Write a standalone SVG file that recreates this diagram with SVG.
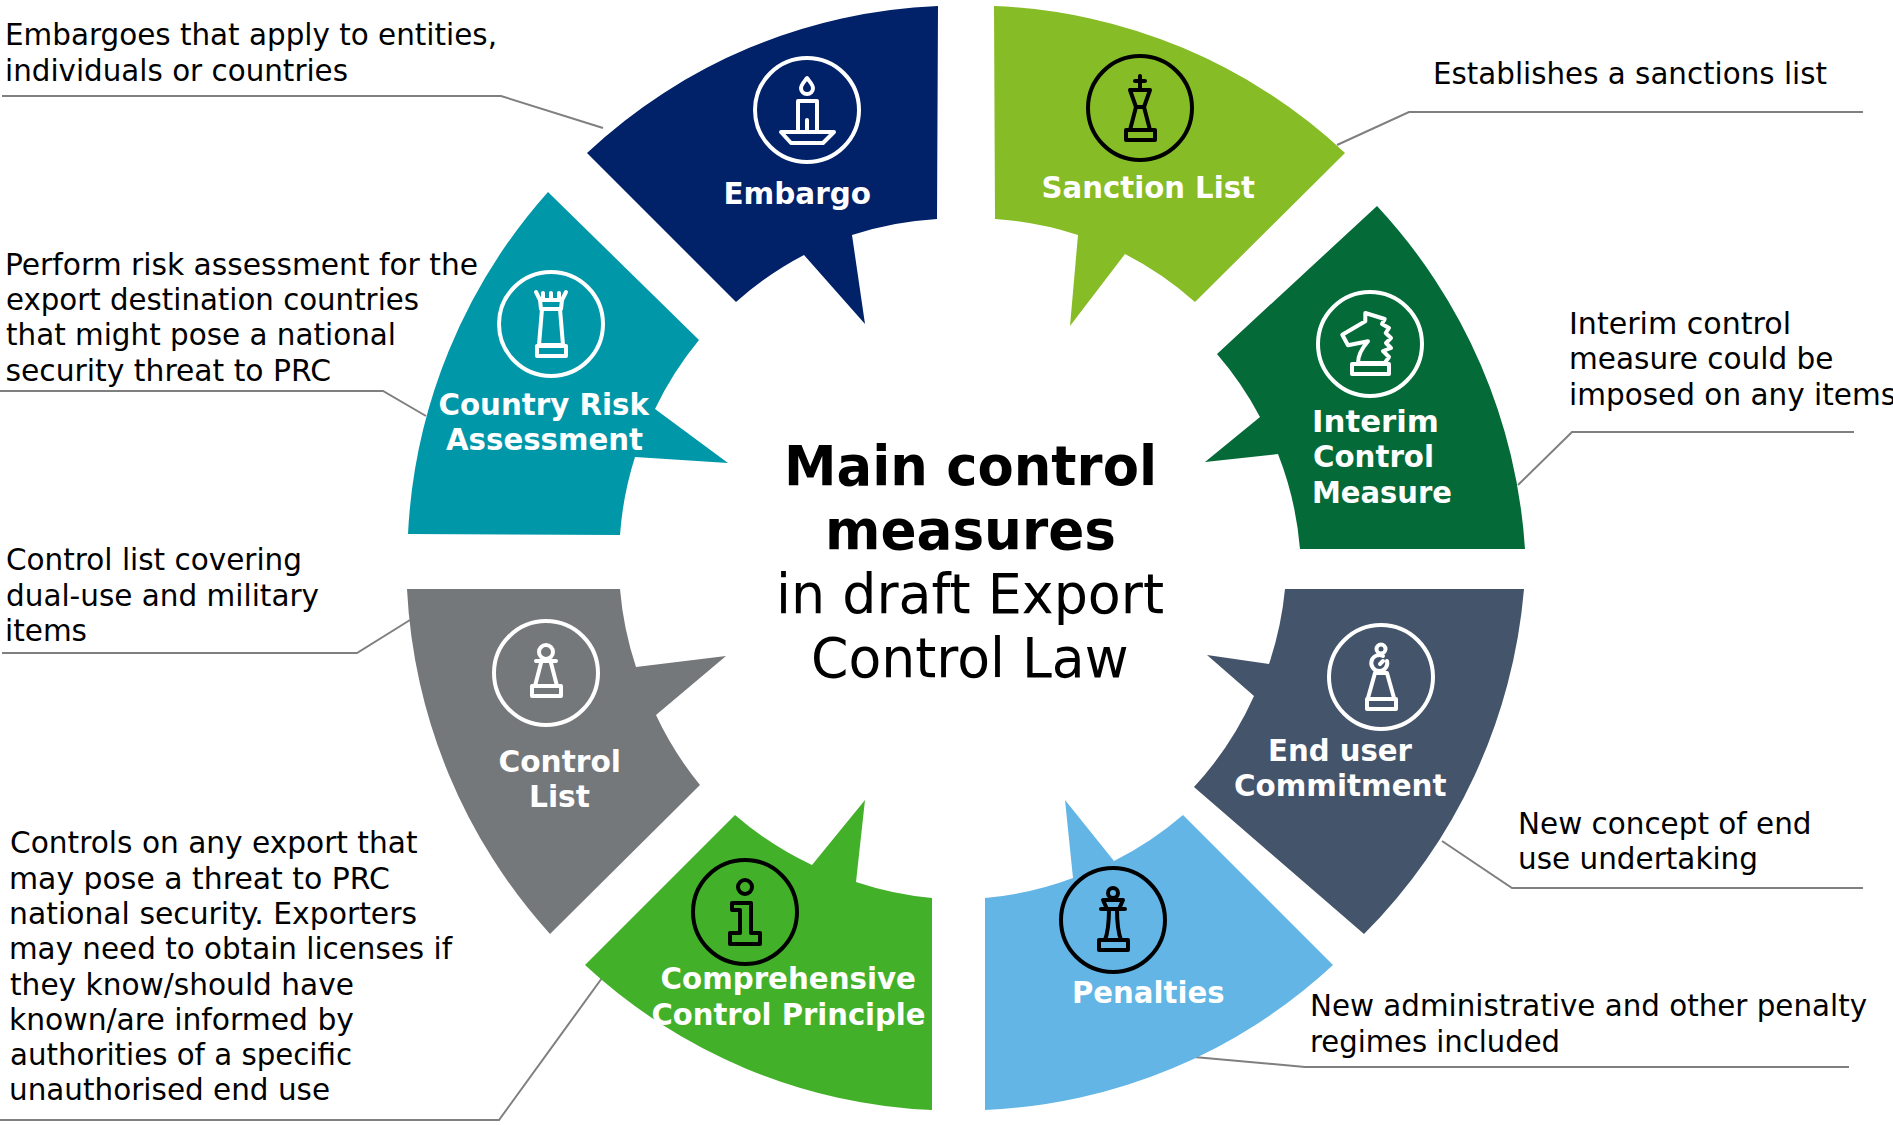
<svg xmlns="http://www.w3.org/2000/svg" width="1893" height="1125" viewBox="0 0 1893 1125">
<style>
text{font-family:"DejaVu Sans","Liberation Sans",sans-serif}
.b{font-size:29.5px;fill:#000}
.l{font-size:29.5px;font-weight:700;fill:#fff}
.t{font-size:54.5px;fill:#000}
.w{fill:none;stroke:#fff;stroke-width:4;stroke-linejoin:round;stroke-linecap:round}
.k{fill:none;stroke:#000;stroke-width:4;stroke-linejoin:round;stroke-linecap:round}
.c{fill:none;stroke:#7f7f7f;stroke-width:2}
</style>
<rect width="1893" height="1125" fill="#fff"/>
<g id="connectors">
<polyline class="c" points="2,96 501,96 603,128"/>
<polyline class="c" points="1337,145 1409,112 1863,112"/>
<polyline class="c" points="1518,485 1572,432 1854,432"/>
<polyline class="c" points="0,391 383,391 426,416"/>
<polyline class="c" points="2,653 357,653 410,620"/>
<polyline class="c" points="0,1120 499,1120 602,978"/>
<polyline class="c" points="1442,841 1512,888 1863,888"/>
<polyline class="c" points="1194,1057 1305,1067 1849,1067"/>
</g>
<g id="embargo">
<path fill="#012169" d="M938,6 L937,219 A335,335 0 0 0 852,235 L865,324 L804,255 A335,335 0 0 0 736,302 L587,153 A545,545 0 0 1 938,6Z"/>
<g class="w" transform="translate(807,110)"><circle r="52"/><path d="M0,-32C-3,-28 -6,-25 -6,-22A6,6 0 0 0 6,-22C6,-25 3,-28 0,-32Z"/><path d="M-9,21V-9H10V21M0,21V10M-26,22H27L16,33H-16Z"/></g>
<text class="l" x="723.500" y="204" textLength="147.500" lengthAdjust="spacingAndGlyphs">Embargo</text>
</g>
<g id="sanction-list">
<path fill="#86BC25" d="M994,6 A545,545 0 0 1 1345,153 L1195,302 A335,335 0 0 0 1125,254 L1070,326 L1078,235 A335,335 0 0 0 995,219Z"/>
<g class="k" transform="translate(1140,108)"><circle r="52"/><path d="M0,-32V-20M-5,-27H5M-10,-18H10L4,-1L10,22H-10L-4,-1ZM-4,-1H4M-14,22H15V32H-14Z"/></g>
<text class="l" x="1041.500" y="198" textLength="213.500" lengthAdjust="spacingAndGlyphs">Sanction List</text>
</g>
<g id="interim-control-measure">
<path fill="#046A38" d="M1377,206 A555,555 0 0 1 1525,549 L1300,549 A335,335 0 0 0 1278,454 L1205,462 L1260,417 A335,335 0 0 0 1217,354Z"/>
<g class="w" transform="translate(1370,344)"><circle r="52"/><path d="M-4.7,-31L14.7,-25L12,-20L19,-16L15.7,-11L21,-6L16,-1L21,4L13,7L19,13L14.7,19H-12C-12,10 -7,3 -2,-2.7L-22,1.3L-27.7,-9.3L-4.7,-22.7ZM-18,20H19V30H-18Z"/></g>
<text class="l" x="1312" y="432" textLength="127" lengthAdjust="spacingAndGlyphs">Interim</text>
<text class="l" x="1313" y="467" textLength="121" lengthAdjust="spacingAndGlyphs">Control</text>
<text class="l" x="1312" y="503" textLength="140" lengthAdjust="spacingAndGlyphs">Measure</text>
</g>
<g id="country-risk-assessment">
<path fill="#0097A9" d="M408,534 A555,555 0 0 1 548,192 L699,340 A335,335 0 0 0 655,409 L728,463 L635,457 A335,335 0 0 0 620,535Z"/>
<g class="w" transform="translate(551,324)"><circle r="52"/><path d="M-15,-32L-11,-24H11L15,-32M-8,-31V-25M0,-31V-25M8,-31V-25M-11,-24L-10,-15H10L11,-24M-9,-15L-12,21H12L9,-15M-14,22H15V32H-14Z"/></g>
<text class="l" x="438.500" y="415" textLength="210.500" lengthAdjust="spacingAndGlyphs">Country Risk</text>
<text class="l" x="446" y="450" textLength="197" lengthAdjust="spacingAndGlyphs">Assessment</text>
</g>
<g id="control-list">
<path fill="#75787B" d="M407,589 L620,589 A335,335 0 0 0 636,667 L726,656 L656,715 A335,335 0 0 0 700,785 L550,934 A555,555 0 0 1 407,589Z"/>
<g class="w" transform="translate(546,673)"><circle r="52"/><circle cy="-21" r="7"/><path d="M-10,-12H10M-4.5,-12L-11,13M4.5,-12L11,13M-14,13H15V23H-14Z"/></g>
<text class="l" x="498.500" y="772" textLength="122.500" lengthAdjust="spacingAndGlyphs">Control</text>
<text class="l" x="529" y="807" textLength="61" lengthAdjust="spacingAndGlyphs">List</text>
</g>
<g id="end-user-commitment">
<path fill="#44546A" d="M1285,589 L1524,589 A555,555 0 0 1 1364,934 L1194,787 A335,335 0 0 0 1254,696 L1207,655 L1269,664 A335,335 0 0 0 1285,589Z"/>
<g class="w" transform="translate(1381,677)"><circle r="52"/><circle cy="-28" r="4.5"/><path d="M2,-21A8,8 0 1 0 6,-16M-1,-13L2,-16M-6,-4L-13,21M6,-4L13,21M-6,-4H6M-14,22H15V32H-14Z"/></g>
<text class="l" x="1268" y="761" textLength="144" lengthAdjust="spacingAndGlyphs">End user</text>
<text class="l" x="1234" y="796" textLength="212.500" lengthAdjust="spacingAndGlyphs">Commitment</text>
</g>
<g id="comprehensive-control-principle">
<path fill="#43B02A" d="M585,965 L735,815 A335,335 0 0 0 812,865 L865,800 L856,882 A335,335 0 0 0 932,898 L932,1110 A545,545 0 0 1 585,965Z"/>
<g class="k" transform="translate(745,912)"><circle r="52"/><circle cy="-25" r="7"/><path d="M-13,-9H6V21H15V32H-15V21H-5V-2H-13Z"/></g>
<text class="l" x="660.500" y="989" textLength="255.500" lengthAdjust="spacingAndGlyphs">Comprehensive</text>
<text class="l" x="651.500" y="1025" textLength="274" lengthAdjust="spacingAndGlyphs">Control Principle</text>
</g>
<g id="penalties">
<path fill="#62B5E5" d="M985,898 A335,335 0 0 0 1073,878 L1065,800 L1114,861 A335,335 0 0 0 1183,815 L1333,965 A545,545 0 0 1 985,1110Z"/>
<g class="k" transform="translate(1113,920)"><circle r="52"/><circle cy="-27" r="5"/><path d="M-10,-20H10L6,-11H-6ZM-12,-11H12M-4,-11C-4,5 -5,12 -8,20M4,-11C4,5 5,12 8,20M-14,20H15V30H-14Z"/></g>
<text class="l" x="1072" y="1003" textLength="152.500" lengthAdjust="spacingAndGlyphs">Penalties</text>
</g>
<g id="title">
<text class="t" x="784" y="485" font-weight="700" textLength="373" lengthAdjust="spacingAndGlyphs">Main control</text>
<text class="t" x="825" y="549" font-weight="700" textLength="291" lengthAdjust="spacingAndGlyphs">measures</text>
<text class="t" x="776" y="613" textLength="388" lengthAdjust="spacingAndGlyphs">in draft Export</text>
<text class="t" x="811" y="677" textLength="317.500" lengthAdjust="spacingAndGlyphs">Control Law</text>
</g>
<g id="descriptions">
<text class="b" x="5" y="45" textLength="492" lengthAdjust="spacingAndGlyphs">Embargoes that apply to entities,</text>
<text class="b" x="5" y="81" textLength="343" lengthAdjust="spacingAndGlyphs">individuals or countries</text>
<text class="b" x="1433" y="84" textLength="394" lengthAdjust="spacingAndGlyphs">Establishes a sanctions list</text>
<text class="b" x="1569" y="334" textLength="222" lengthAdjust="spacingAndGlyphs">Interim control</text>
<text class="b" x="1569" y="369" textLength="264.500" lengthAdjust="spacingAndGlyphs">measure could be</text>
<text class="b" x="1569" y="404.500">imposed on any items</text>
<text class="b" x="5" y="275" textLength="473" lengthAdjust="spacingAndGlyphs">Perform risk assessment for the</text>
<text class="b" x="6" y="310" textLength="413" lengthAdjust="spacingAndGlyphs">export destination countries</text>
<text class="b" x="6" y="345" textLength="390" lengthAdjust="spacingAndGlyphs">that might pose a national</text>
<text class="b" x="5.500" y="380.500" textLength="325.500" lengthAdjust="spacingAndGlyphs">security threat to PRC</text>
<text class="b" x="6" y="570" textLength="296" lengthAdjust="spacingAndGlyphs">Control list covering</text>
<text class="b" x="6" y="606" textLength="313" lengthAdjust="spacingAndGlyphs">dual-use and military</text>
<text class="b" x="5" y="641" textLength="82" lengthAdjust="spacingAndGlyphs">items</text>
<text class="b" x="10" y="853" textLength="407.500" lengthAdjust="spacingAndGlyphs">Controls on any export that</text>
<text class="b" x="9" y="888.500" textLength="381" lengthAdjust="spacingAndGlyphs">may pose a threat to PRC</text>
<text class="b" x="9" y="924" textLength="408" lengthAdjust="spacingAndGlyphs">national security. Exporters</text>
<text class="b" x="9" y="959" textLength="443" lengthAdjust="spacingAndGlyphs">may need to obtain licenses if</text>
<text class="b" x="10" y="994.500" textLength="344" lengthAdjust="spacingAndGlyphs">they know/should have</text>
<text class="b" x="9" y="1029.500" textLength="345" lengthAdjust="spacingAndGlyphs">known/are informed by</text>
<text class="b" x="10" y="1065" textLength="342" lengthAdjust="spacingAndGlyphs">authorities of a specific</text>
<text class="b" x="9" y="1100" textLength="321" lengthAdjust="spacingAndGlyphs">unauthorised end use</text>
<text class="b" x="1518" y="833.500" textLength="293.500" lengthAdjust="spacingAndGlyphs">New concept of end</text>
<text class="b" x="1518" y="868.500" textLength="240" lengthAdjust="spacingAndGlyphs">use undertaking</text>
<text class="b" x="1310" y="1016" textLength="557" lengthAdjust="spacingAndGlyphs">New administrative and other penalty</text>
<text class="b" x="1310" y="1051.500" textLength="250" lengthAdjust="spacingAndGlyphs">regimes included</text>
</g>
</svg>
